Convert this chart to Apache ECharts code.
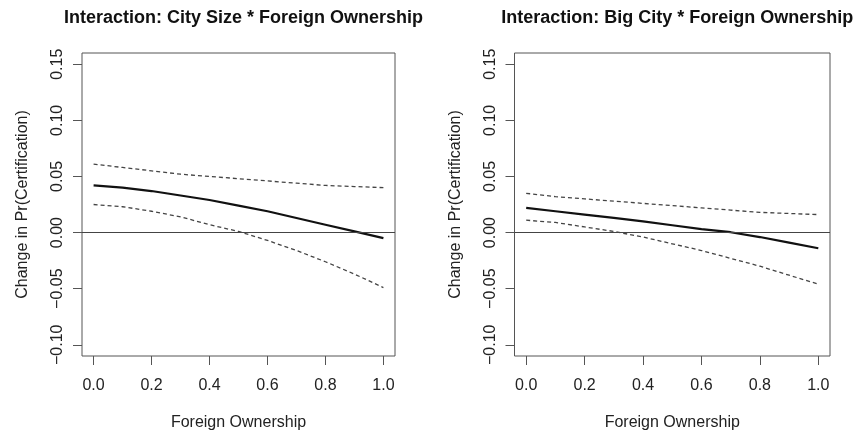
<!DOCTYPE html>
<html>
<head>
<meta charset="utf-8">
<script src="https://cdn.jsdelivr.net/npm/echarts@6/dist/echarts.min.js"></script>
<style>
  html, body { margin: 0; padding: 0; background: #fff; }
  #chart { width: 858px; height: 438px; }
</style>
</head>
<body>
<div id="chart"></div>
<script>
// foreign ownership grid
const ownership = [0, 0.1, 0.2, 0.3, 0.4, 0.5, 0.6, 0.7, 0.8, 0.9, 1.0];

// left panel: city size
const citySizeEffect = [0.042, 0.040, 0.037, 0.033, 0.029, 0.024, 0.019, 0.013, 0.007, 0.001, -0.005];
const citySizeUpper  = [0.061, 0.058, 0.055, 0.052, 0.050, 0.048, 0.046, 0.044, 0.042, 0.041, 0.040];
const citySizeLower  = [0.025, 0.023, 0.019, 0.014, 0.007, 0.001, -0.007, -0.016, -0.026, -0.037, -0.049];

// right panel: big city
const bigCityEffect = [0.022, 0.019, 0.016, 0.013, 0.010, 0.0065, 0.003, 0.0003, -0.004, -0.009, -0.014];
const bigCityUpper  = [0.035, 0.032, 0.030, 0.028, 0.026, 0.024, 0.022, 0.020, 0.018, 0.017, 0.016];
const bigCityLower  = [0.011, 0.009, 0.005, 0.001, -0.004, -0.010, -0.016, -0.023, -0.030, -0.038, -0.046];

const xTicks = [0, 0.2, 0.4, 0.6, 0.8, 1.0];
const yTicks = [-0.10, -0.05, 0.00, 0.05, 0.10, 0.15];

const titles = [
  'Interaction: City Size * Foreign Ownership',
  'Interaction: Big City * Foreign Ownership'
];

const font = '"Liberation Sans", Arial, Helvetica, sans-serif';
const boxColor = '#555';

const pairs = ys => ownership.map((x, i) => [x, ys[i]]);
const fmtY = v => (v < 0 ? '\u2212' : '') + Math.abs(v).toFixed(2);

const grids = [
  { left: 82, top: 53, width: 313, height: 303 },
  { left: 514.5, top: 53, width: 315.5, height: 303 }
];

const xAxes = grids.map((g, i) => ({
  type: 'value', gridIndex: i, min: -0.04, max: 1.04,
  name: 'Foreign Ownership', nameLocation: 'middle', nameGap: 59,
  nameTextStyle: { fontFamily: font, fontSize: 16, color: '#222' },
  axisLine: { show: false, onZero: false },
  axisTick: { show: true, length: 9, customValues: xTicks, lineStyle: { color: boxColor } },
  axisLabel: { customValues: xTicks, margin: 22, fontFamily: font, fontSize: 16, color: '#222',
    formatter: v => v.toFixed(1) },
  splitLine: { show: false }
}));

const yAxes = grids.map((g, i) => ({
  type: 'value', gridIndex: i, min: -0.11, max: 0.16,
  name: 'Change in Pr(Certification)', nameLocation: 'middle', nameGap: 51, nameRotate: 90,
  nameTextStyle: { fontFamily: font, fontSize: 16, color: '#222' },
  axisLine: { show: false, onZero: false },
  axisTick: { show: true, length: 9, customValues: yTicks, lineStyle: { color: boxColor } },
  axisLabel: { customValues: yTicks, rotate: 90, margin: 16, fontFamily: font, fontSize: 16, color: '#222',
    formatter: fmtY },
  splitLine: { show: false }
}));

function panel(i, effect, upper, lower) {
  return [
    {
      type: 'line', xAxisIndex: i, yAxisIndex: i, data: pairs(effect), showSymbol: false,
      lineStyle: { color: '#111', width: 2.2 },
      markLine: {
        silent: true, symbol: 'none', label: { show: false },
        lineStyle: { color: '#444', width: 1, type: 'solid' },
        data: [{ yAxis: 0 }]
      }
    },
    {
      type: 'line', xAxisIndex: i, yAxisIndex: i, data: pairs(upper), showSymbol: false,
      lineStyle: { color: '#444', width: 1.3, type: [4, 3] }
    },
    {
      type: 'line', xAxisIndex: i, yAxisIndex: i, data: pairs(lower), showSymbol: false,
      lineStyle: { color: '#444', width: 1.3, type: [4, 3] }
    }
  ];
}

const chart = echarts.init(document.getElementById('chart'));
chart.setOption({
  animation: false,
  backgroundColor: '#fff',
  title: titles.map((t, i) => ({
    text: t,
    left: grids[i].left + grids[i].width / 2,
    top: 4,
    textAlign: 'center',
    textStyle: { fontFamily: font, fontSize: 18, fontWeight: 'bold', color: '#111' }
  })),
  grid: grids.map(g => Object.assign({ show: true, borderColor: boxColor, borderWidth: 1,
    backgroundColor: 'transparent' }, g)),
  xAxis: xAxes,
  yAxis: yAxes,
  series: [].concat(
    panel(0, citySizeEffect, citySizeUpper, citySizeLower),
    panel(1, bigCityEffect, bigCityUpper, bigCityLower)
  )
});
</script>
</body>
</html>
